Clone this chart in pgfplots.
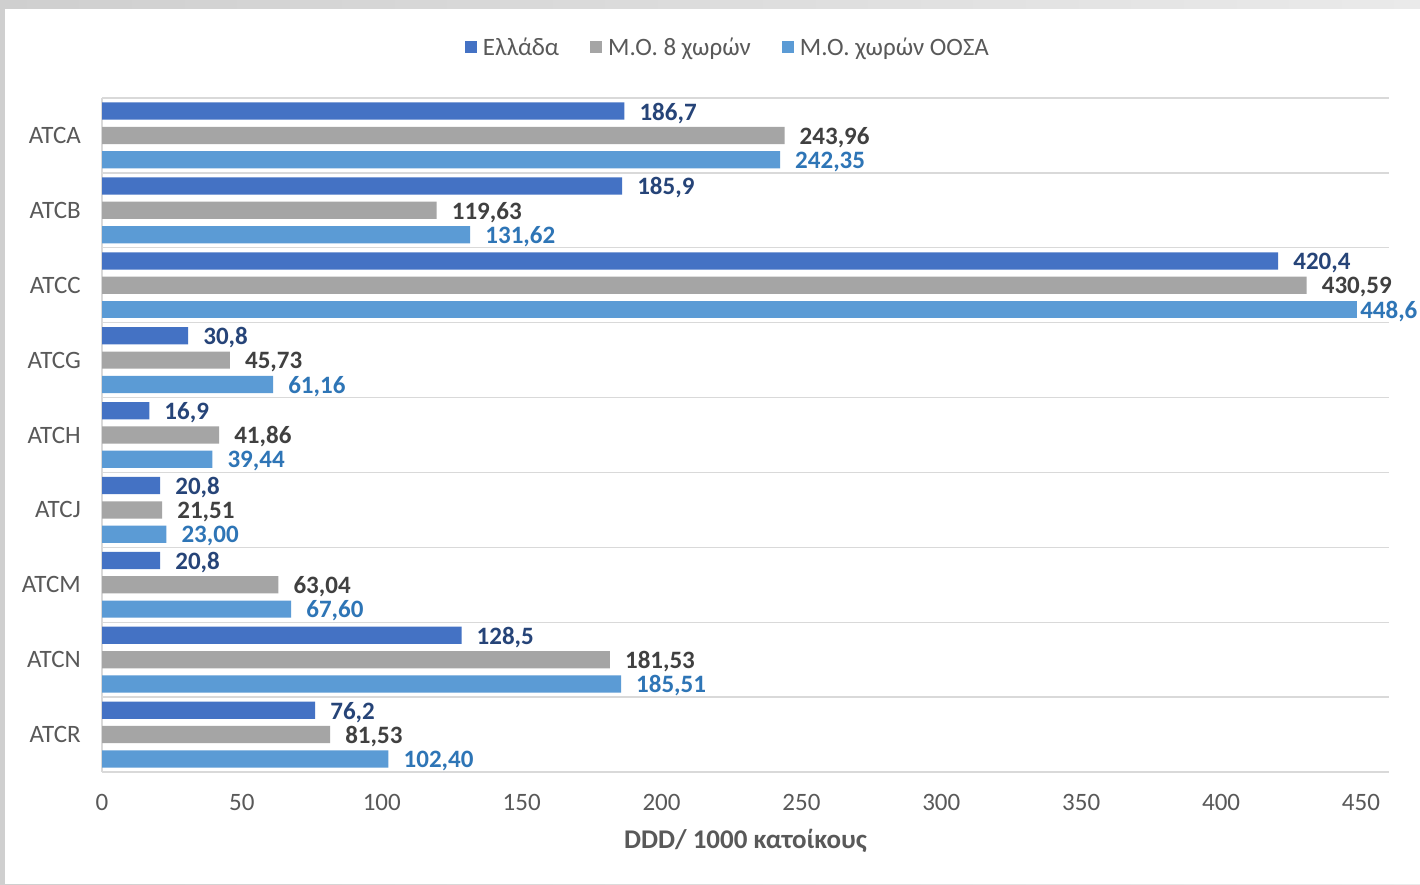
\documentclass[border=0pt]{standalone}
\usepackage{fontspec}
\setmainfont{Carlito}
\usepackage{pgfplots}
\pgfplotsset{compat=1.18}
\definecolor{cgr}{HTML}{4472C4}
\definecolor{cgy}{HTML}{A5A5A5}
\definecolor{clb}{HTML}{5B9BD5}
\definecolor{lgr}{HTML}{264478}
\definecolor{lgy}{HTML}{404040}
\definecolor{llb}{HTML}{2E75B6}
\definecolor{labgray}{HTML}{595959}
\definecolor{gridc}{HTML}{D9D9D9}
\definecolor{bandl}{HTML}{CFCFCF}
\definecolor{bandr}{HTML}{EAEAEA}
\newcommand{\fs}{\fontsize{25}{29}\selectfont}
\begin{document}
\begin{tikzpicture}[x=1pt,y=1pt]
\shade[left color=bandl, right color=bandr] (0,0) rectangle (1420,884);
\fill[white] (5,0) rectangle (1420,875);
\begin{axis}[
  at={(102pt,112pt)}, anchor=south west, scale only axis,
  width=1287pt, height=674pt,
  xbar, bar width=0.23, bar shift=0pt,
  xmin=0, xmax=460, ymin=-0.5, ymax=8.5, y dir=reverse,
  clip=false,
  xtick={0,50,...,450},
  ytick={0,...,8},
  yticklabels={ATCA,ATCB,ATCC,ATCG,ATCH,ATCJ,ATCM,ATCN,ATCR},
  minor ytick={-0.5,0.5,...,8.5},
  yminorgrids=true,
  minor grid style={gridc, line width=1.3pt},
  major tick length=0pt, minor tick length=0pt,
  axis line style={draw=none},
  extra x ticks={0}, extra x tick labels={},
  extra x tick style={xmajorgrids=true, major grid style={gridc, line width=1.3pt}},
  /pgf/number format/assume math mode=true,
  tick label style={font=\fs, text=labgray},
  xticklabel style={anchor=north, inner sep=0pt, yshift=-22pt},
  yticklabel style={anchor=east, inner sep=0pt, xshift=-21pt},
  xlabel={\textbf{DDD/ 1000 κατοίκους}},
  xlabel style={at={(axis description cs:0.5,-0.1024)}, anchor=center, inner sep=0pt, font=\fontsize{27}{31}\selectfont, text=labgray},
  nodes near coords,
  point meta=explicit symbolic,
  every node near coord/.append style={anchor=west, inner sep=0pt, xshift=15pt, yshift=-2pt, font=\fs\bfseries},
  legend columns=3,
  legend style={at={(0.4856,1.0757)}, anchor=center, draw=none, fill=none,
    font=\fs, text=labgray, inner sep=0pt,
    nodes={inner sep=0pt},
    /tikz/every odd column/.append style={column sep=6pt},
    /tikz/every even column/.append style={column sep=31pt}},
  legend image code/.code={\fill[#1] (0pt,-6pt) rectangle (12pt,6pt);},
]
\addplot[fill=cgr, draw=none, every node near coord/.append style={text=lgr}] table[x=x, y=y, meta=label] {
x y label
186.7 -0.325 186,7
185.9 0.675 185,9
420.4 1.675 420,4
30.8 2.675 30,8
16.9 3.675 16,9
20.8 4.675 20,8
20.8 5.675 20,8
128.5 6.675 128,5
76.2 7.675 76,2
};
\addlegendentry{Ελλάδα}
\addplot[fill=cgy, draw=none, every node near coord/.append style={text=lgy}] table[x=x, y=y, meta=label] {
x y label
243.96 0 243,96
119.63 1 119,63
430.59 2 430,59
45.73 3 45,73
41.86 4 41,86
21.51 5 21,51
63.04 6 63,04
181.53 7 181,53
81.53 8 81,53
};
\addlegendentry{Μ.Ο. 8 χωρών}
\addplot[fill=clb, draw=none, every node near coord/.append style={text=llb}] table[x=x, y=y, meta=label] {
x y label
242.35 0.325 242,35
131.62 1.325 131,62
61.16 3.325 61,16
39.44 4.325 39,44
23.00 5.325 23,00
67.60 6.325 67,60
185.51 7.325 185,51
102.40 8.325 102,40
};
\addlegendentry{Μ.Ο. χωρών ΟΟΣΑ}
\addplot[fill=clb, draw=none, forget plot, every node near coord/.append style={text=llb, xshift=-12pt}] table[x=x, y=y, meta=label] {
x y label
448.6 2.325 448,6
};
\end{axis}
\end{tikzpicture}
\end{document}
